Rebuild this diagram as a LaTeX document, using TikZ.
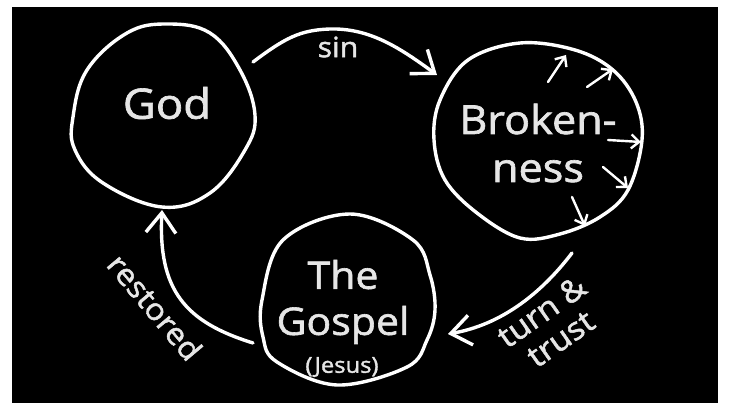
\documentclass[tikz,border=0pt]{standalone}
\usepackage{fontspec}
\setmainfont[FakeBold=1.6,FakeStretch=1.08]{Open Sans}
\usetikzlibrary{arrows.meta}
\definecolor{chalk}{HTML}{E6E6E6}
\tikzset{
  ring/.style={draw=white, line width=3.4pt, line join=round},
  bigarrow/.style={draw=white, line width=3.4pt, line cap=round,
    -{Straight Barb[length=20pt,width=30pt,line width=3.4pt]}},
  smallarrow/.style={draw=white, line width=2.4pt, line cap=round,
    -{Straight Barb[length=8pt,width=14pt,line width=2.4pt]}},
  word/.style={text=chalk, inner sep=0pt, align=center},
}
\begin{document}
\begin{tikzpicture}[x=1pt,y=-1pt]
\useasboundingbox (0,0) rectangle (730,411);
\fill[white] (0,0) rectangle (730,411);
\fill[black] (12,7) rectangle (718,403);

% circles
\draw[ring] plot[smooth cycle, tension=0.65] coordinates {
  (167,24) (210,33) (240,70) (255,115) (245,150) (210,193) (162,207)
  (103,183) (75,150) (73,117) (87,70) (127,33)};
\draw[ring] plot[smooth cycle, tension=0.6] coordinates {
  (520,43) (575,50) (613,70) (636,102) (642,140) (628,190) (600,217)
  (560,234) (520,238) (477,213) (445,180) (434,140) (440,100) (468,60)};
\draw[ring] plot[smooth cycle, tension=0.6] coordinates {
  (350,214) (413,240) (430,275) (435,310) (427,340) (407,367) (337,385)
  (277,362) (263,337) (262,300) (283,240)};

% texts
\node[word, font=\fontsize{42}{46}\selectfont] (god) at (167,103) {God};
\node[word, font=\fontsize{40}{50}\selectfont] (broken) at (538,143) {Broken-\\[-2pt]ness};
\node[word, font=\fontsize{38}{48}\selectfont] (gospel) at (343,302) {The\\[-2pt]Gospel};
\node[word, font=\fontsize{22}{24}\selectfont] (jesus) at (342,367) {(Jesus)};

% endpoints
\coordinate (sinS) at (253,62);
\coordinate (sinE) at (437,75);
\coordinate (turnS) at (572,253);
\coordinate (turnE) at (448,334);
\coordinate (restS) at (253,343);
\coordinate (restE) at (162,210);

% main arrows
\draw[bigarrow] (sinS) .. controls (285,38) and (300,30) .. (330,29)
  .. controls (370,28) and (400,48) .. (sinE);
\node[word, font=\fontsize{28}{32}\selectfont] (sin) at (338,47) {sin};

\draw[bigarrow] (turnS) .. controls (540,295) and (500,325) .. (turnE);
\node[word, rotate=35, font=\fontsize{31}{33}\selectfont] (turn) at (551,325) {turn \&\\trust};

\draw[bigarrow] (restS) .. controls (185,322) and (158,290) .. (restE);
\node[word, rotate=-50, font=\fontsize{30}{34}\selectfont] (rest) at (155,307) {restored};

% small arrows of brokenness
\coordinate (a1s) at (548,82);  \coordinate (a1e) at (566,55);
\coordinate (a2s) at (587,87);  \coordinate (a2e) at (613,69);
\coordinate (a3s) at (608,140); \coordinate (a3e) at (641,142);
\coordinate (a4s) at (603,167); \coordinate (a4e) at (628,188);
\coordinate (a5s) at (572,197); \coordinate (a5e) at (585,226);
\draw[smallarrow] (a1s) -- (a1e);
\draw[smallarrow] (a2s) -- (a2e);
\draw[smallarrow] (a3s) -- (a3e);
\draw[smallarrow] (a4s) -- (a4e);
\draw[smallarrow] (a5s) -- (a5e);
\end{tikzpicture}
\end{document}
